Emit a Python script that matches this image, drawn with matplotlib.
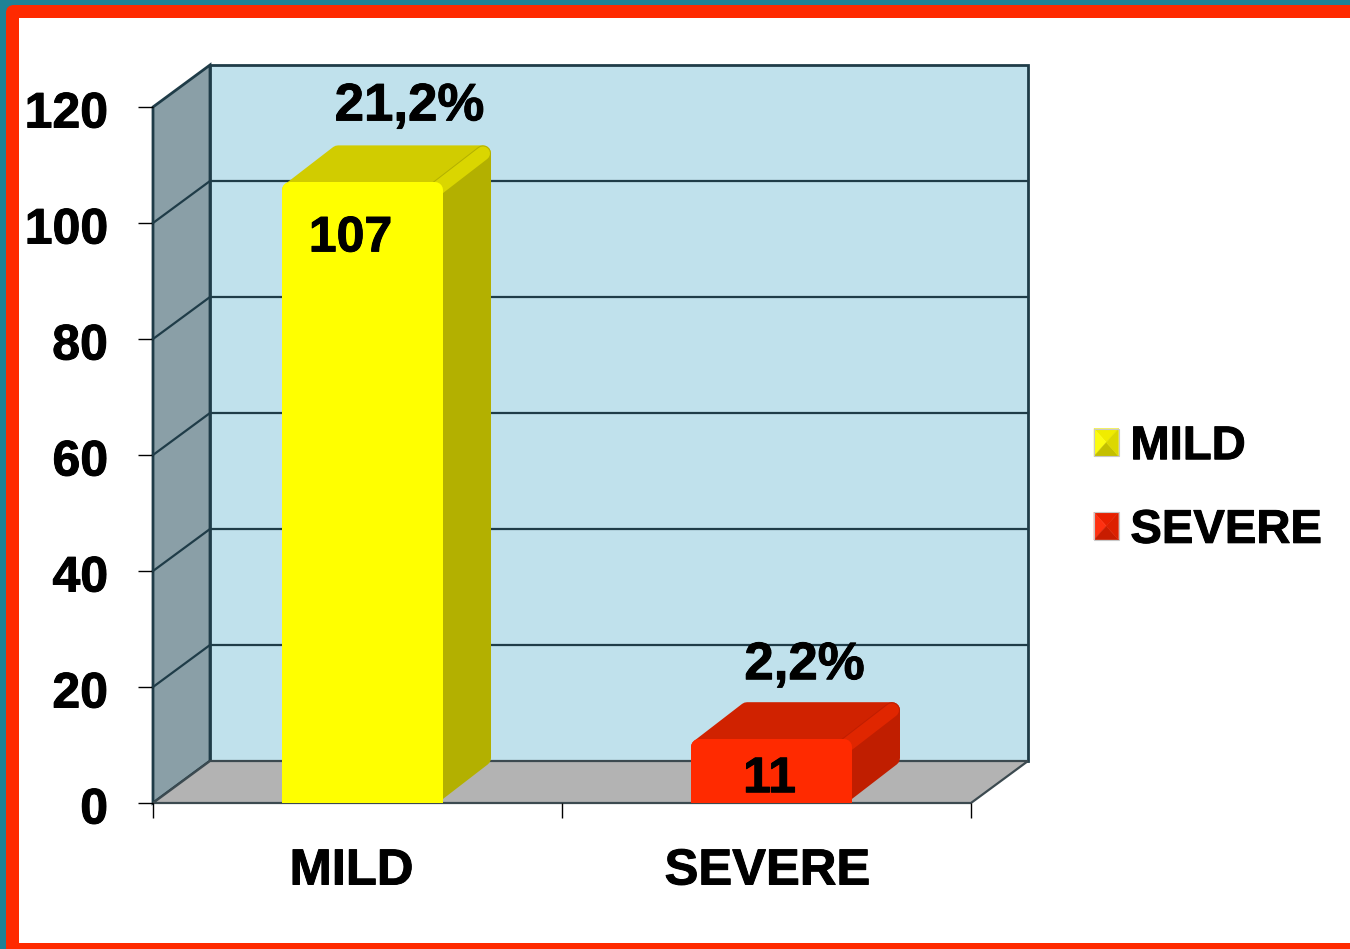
import matplotlib
matplotlib.use('Agg')
import matplotlib.pyplot as plt
import matplotlib.patheffects as pe
from matplotlib.legend_handler import HandlerBase
from matplotlib.patches import FancyBboxPatch, Patch, Polygon, Rectangle
from matplotlib.transforms import ScaledTranslation

categories = ['MILD', 'SEVERE']
values = [107, 11]
percent_labels = ['21,2%', '2,2%']
y_ticks = [0, 20, 40, 60, 80, 100, 120]

plt.rcParams['font.family'] = ['Liberation Sans', 'DejaVu Sans']
plt.rcParams['font.weight'] = 'bold'

PX = 0.72  # points per pixel at dpi=100
W, H = 1350, 949

# colours: front, top, side, edge highlight, legend bevel (top, left, bottom, right)
bar_colors = [
    ('#ffff00', '#d1cc00', '#b3b000', '#dad600', ('#f0ec00', '#fcfc10', '#c4c000', '#dcd800')),
    ('#ff2a00', '#d02200', '#c01e00', '#e02600', ('#e82000', '#ff3010', '#c81c00', '#dc2000')),
]
value_offsets = [(-12, -56), (-2, -40)]
percent_offsets = [(47, 76), (33, 74)]
category_offsets = [-6, 1]
heavy = [pe.withStroke(linewidth=0.7, foreground='black')]

fig = plt.figure(figsize=(W / 100, H / 100), dpi=100, facecolor='#1f8296')

# red frame with the white card inside
bg = fig.add_axes([0, 0, 1, 1])
bg.set_xlim(0, W)
bg.set_ylim(H, 0)
bg.axis('off')
bg.add_patch(FancyBboxPatch((12, 11), W + 50, H + 50, boxstyle='round,pad=6,rounding_size=8',
                            fc='#ff2a00', ec='none'))
bg.add_patch(Rectangle((19, 18), W, 925, fc='white', ec='none'))
bg.add_patch(Rectangle((6, 943), W, 6, fc='#ff2a00', ec='none'))

ax = fig.add_axes([153 / W, (H - 803) / H, 818 / W, 696 / H])
ax.set_xlim(0, 2)
ax.set_ylim(0, 120)
ax.patch.set_visible(False)
for s in ax.spines.values():
    s.set_visible(False)

# pixel sizes converted to data units
ux = 2 / 818
uy = 120 / 696
dx, dy = 57 * ux, 42 * uy
bar_w = 161 * ux
bar_dx, bar_dy = 48 * ux, 37 * uy
rx, ry = 8 * ux, 8 * uy
line = '#1f3c48'

# walls and floor
ax.add_patch(Polygon([(0, 0), (dx, dy), (dx, 120 + dy), (0, 120)], closed=True, fc='#8a9fa7',
                     ec=line, lw=2, clip_on=False, zorder=1))
ax.add_patch(Polygon([(dx, dy), (2 + dx, dy), (2 + dx, 120 + dy), (dx, 120 + dy)], closed=True,
                     fc='#c0e1ec', ec=line, lw=2, clip_on=False, zorder=1))
ax.add_patch(Polygon([(0, 0), (dx, dy), (2 + dx, dy), (2, 0)], closed=True, fc='#b3b3b3',
                     ec='#3c4a50', lw=1.6, clip_on=False, zorder=1.5))

# gridlines run along the side wall and across the back wall
for t in y_ticks[1:-1]:
    ax.plot([0, dx, 2 + dx], [t, t + dy, t + dy], color=line, lw=1.6, clip_on=False, zorder=2)

floor_clip = Rectangle((-1, 0), 5, 200, transform=ax.transData)
for i, (v, cols) in enumerate(zip(values, bar_colors)):
    front, top, side, edge, _ = cols
    x0 = i + 0.5 + 5 * ux - bar_w / 2
    x1 = x0 + bar_w
    stroke = dict(closed=True, lw=16 * PX, joinstyle='round', clip_on=False, zorder=3)
    ax.add_patch(Polygon([(x0 + rx, v - ry), (x0 + bar_dx + rx, v + bar_dy - ry),
                          (x1 + bar_dx - rx, v + bar_dy - ry), (x1 - rx, v - ry)],
                         fc=top, ec=top, **stroke))
    ax.add_patch(Polygon([(x1 - rx, ry), (x1 + bar_dx - rx, bar_dy + ry),
                          (x1 + bar_dx - rx, v + bar_dy - ry), (x1 - rx, v - ry)],
                         fc=side, ec=side, **stroke))
    # soft lighter band along the top right edge
    ax.plot([x1 - rx, x1 + bar_dx - rx], [v - ry, v + bar_dy - ry], color=edge, lw=14 * PX,
            solid_capstyle='round', clip_on=False, zorder=3.2)
    p = Polygon([(x0 + rx, 0), (x1 - rx, 0), (x1 - rx, v - ry), (x0 + rx, v - ry)],
                fc=front, ec=front, closed=True, lw=16 * PX, joinstyle='round', zorder=3.5)
    ax.add_patch(p)
    p.set_clip_path(floor_clip)

    xc = (x0 + x1) / 2
    off = value_offsets[i]
    ax.annotate(str(v), (xc, v), xytext=(off[0] * PX, off[1] * PX), textcoords='offset points',
                ha='center', va='center', fontsize=36, color='black', zorder=5,
                path_effects=heavy)
    off = percent_offsets[i]
    ax.annotate(percent_labels[i], (xc, v), xytext=(off[0] * PX, off[1] * PX),
                textcoords='offset points', ha='center', va='center', fontsize=38,
                color='black', zorder=5, path_effects=heavy)

# axes ticks and labels
ax.set_yticks(y_ticks)
ax.set_xticks([0, 1, 2])
ax.set_xticklabels([])
ax.tick_params(axis='y', length=15 * PX, width=1, pad=30 * PX, labelsize=36)
ax.tick_params(axis='x', length=15 * PX, width=1)
nudge = ScaledTranslation(0, -2.5 / 100, fig.dpi_scale_trans)
for lab in ax.get_yticklabels():
    lab.set_va('center_baseline')
    lab.set_transform(lab.get_transform() + nudge)
    lab.set_path_effects(heavy)
for i, c in enumerate(categories):
    ax.annotate(c, (i + 0.5, 0), xytext=(category_offsets[i] * PX, -68 * PX),
                textcoords='offset points', ha='center', va='center', fontsize=36.5,
                path_effects=heavy)


class BevelHandler(HandlerBase):
    # square swatch split into four shaded triangles
    def create_artists(self, legend, orig, xd, yd, w, h, fs, trans):
        cols = orig.bevel
        x, y = -xd, -yd
        c = (x + w / 2, y + h / 2)
        tl, tr, bl, br = (x, y + h), (x + w, y + h), (x, y), (x + w, y)
        tris = [(tl, tr), (bl, tl), (br, bl), (tr, br)]
        arts = [Polygon([a, b, c], closed=True, fc=col, ec=col, lw=0.3, transform=trans)
                for (a, b), col in zip(tris, cols)]
        arts.append(Rectangle((x, y), w, h, fc='none', ec='#c8c8c8', lw=0.8, transform=trans))
        return arts


handles = []
for c, cols in zip(categories, bar_colors):
    h = Patch(label=c)
    h.bevel = cols[4]
    handles.append(h)

leg = fig.legend(handles=handles, loc='center left', bbox_to_anchor=(1094 / W, (H - 489) / H),
                 frameon=False, fontsize=34, handler_map={Patch: BevelHandler()},
                 handlelength=0.52, handleheight=0.52, handletextpad=0.25, labelspacing=0.84,
                 borderpad=0, borderaxespad=0)
for t in leg.get_texts():
    t.set_path_effects(heavy)

fig.savefig('out.png', dpi=100)
